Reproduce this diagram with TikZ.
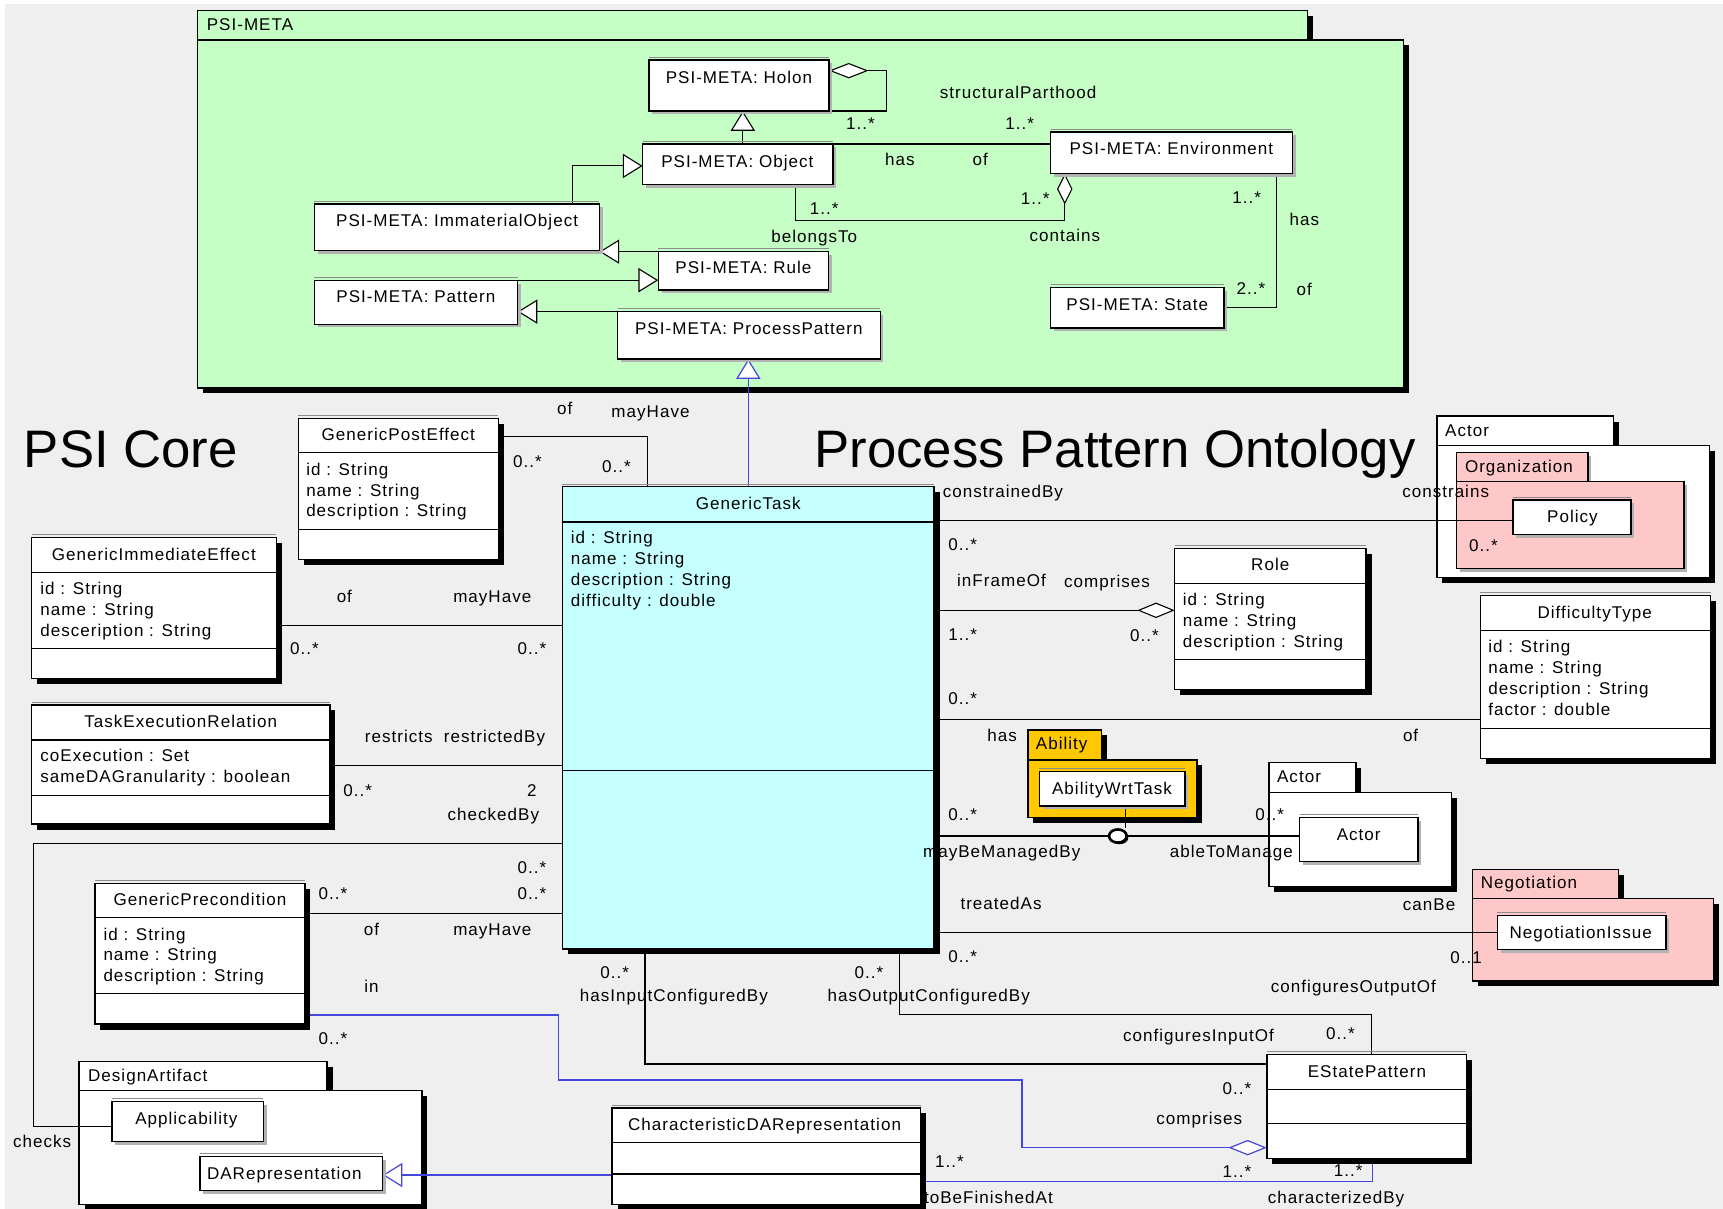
\documentclass[tikz,border=0pt]{standalone}
\usepackage{fontspec}
\setmainfont{Liberation Sans}
\newfontfamily\umlfont{Liberation Sans}[LetterSpace=6]
\usetikzlibrary{arrows.meta,fit,shadows,shapes.geometric}

\definecolor{canvasgrey}{RGB}{239,239,239}
\definecolor{metagreen}{RGB}{198,255,198}
\definecolor{taskcyan}{RGB}{198,255,255}
\definecolor{pkgpink}{RGB}{255,200,200}
\definecolor{pkgorange}{RGB}{255,200,0}
\definecolor{linkblue}{RGB}{70,70,220}

\pgfdeclarelayer{pkg}
\pgfdeclarelayer{links}
\pgfsetlayers{pkg,links,main}

\tikzset{
  lab/.style={font=\umlfont\fontsize{15.5}{19}\selectfont, inner sep=0pt, text height=11pt, text depth=3pt},
  titletext/.style={font=\fontsize{48}{52}\selectfont, inner sep=0pt, anchor=base west},
  boxline/.style={draw=black, line width=1.1pt},
  hardbox/.style={draw=black, line width=1.2pt, fill=white, inner sep=0pt, outer sep=0pt,
    drop shadow={shadow xshift=5pt, shadow yshift=-5pt, fill=black, opacity=1}},
  softbox/.style={draw=black, line width=1.2pt, fill=white, inner sep=0pt, outer sep=0pt,
    drop shadow={shadow xshift=3pt, shadow yshift=-3pt, fill=black!30, opacity=1}},
  taskbox/.style={hardbox, fill=taskcyan},
  topline/.style={draw=black!45, line width=0.8pt},
  link/.style={draw=black, line width=1pt},
  bluelink/.style={draw=linkblue, line width=1.1pt},
  gen/.style={-{Triangle[length=18pt,width=22pt,fill=white]}},
  agg/.style={arrows={{Diamond[length=#1,width=14pt,fill=white]}-}},
  ball/.style={ellipse, draw=black, line width=2.4pt, fill=white, minimum width=16pt,
    minimum height=12pt, inner sep=0pt,
    drop shadow={shadow xshift=1.5pt, shadow yshift=-1.5pt, fill=black, opacity=1}},
}

% class frame: style, name, x1, y1, x2, y2
\newcommand\umlcls[6]{%
  \node[#1, fit={(#3,#4)(#5,#6)}] (#2) {};
  \draw[topline] ([yshift=2.5pt]#2.north west) -- ([yshift=2.5pt]#2.north east);
}
% compartment separator: class name, y
\newcommand\sep[2]{\draw[boxline] (#1.west |- 0,#2) -- (#1.east |- 0,#2);}
% package: name, x1, y1, tab right, tab bottom, x2, y2, fill, frame style
\newcommand\umlpkg[9]{%
  \node[#9, fill=#8, fit={(#2,#3)(#4,#5)}] (#1-tab) {};
  \node[#9, fill=#8, fit={(#2,#5)(#6,#7)}] (#1) {};
}
% text labels: name, x, y, text
\newcommand\lbl[4]{\node[lab] (#1) at (#2,#3) {#4};}
\newcommand\lblw[4]{\node[lab, anchor=west] (#1) at (#2,#3) {#4};}

\begin{document}
\begin{tikzpicture}[x=1pt,y=-1pt]
\useasboundingbox (0,0) rectangle (1568,1100);

% ---------------- packages and canvas ----------------
\begin{pgfonlayer}{pkg}
  \fill[white] (0,0) rectangle (1568,1100);
  \fill[canvasgrey] (5,4) rectangle (1568,1100);
  \umlpkg{psimeta}{180}{9.7}{1190}{36.4}{1277}{353}{metagreen}{hardbox}
  \umlpkg{actorup}{1307.6}{378.6}{1468.5}{405.6}{1556}{525.7}{white}{hardbox}
  \umlpkg{org}{1325.3}{411.6}{1445}{438.3}{1532.4}{517.2}{pkgpink}{softbox}
  \umlpkg{ability}{935.4}{664.3}{1002.6}{691.6}{1089.3}{743.8}{pkgorange}{hardbox}
  \umlpkg{actorlow}{1154.7}{694}{1234}{721}{1321}{806.9}{white}{hardbox}
  \umlpkg{nego}{1339.8}{791}{1472.8}{817.5}{1559.6}{892.7}{pkgpink}{hardbox}
  \umlpkg{design}{72}{966}{297.7}{992.5}{384}{1096}{white}{hardbox}
\end{pgfonlayer}

% ---------------- PSI-META classes ----------------
\umlcls{softbox}{holon}{590.6}{54.6}{754.4}{101}
\umlcls{softbox}{object}{584.8}{131}{758}{168}
\umlcls{softbox}{env}{956}{120}{1176}{158}
\umlcls{softbox}{immat}{286}{185.6}{545.5}{228}
\umlcls{softbox}{rule}{599}{229}{754}{264}
\umlcls{softbox}{pattern}{286}{255}{471}{295}
\umlcls{softbox}{pp}{562}{283.6}{801}{326.7}
\umlcls{softbox}{state}{956}{261.5}{1114}{298.5}

% ---------------- core classes ----------------
\umlcls{taskbox}{gt}{511.6}{443}{850}{863.6}
\sep{gt}{475}\sep{gt}{701}
\umlcls{hardbox}{pe}{271.6}{380.7}{453.4}{509}
\sep{pe}{411.5}\sep{pe}{481.7}
\umlcls{hardbox}{gie}{28.9}{489.3}{251.4}{617.3}
\sep{gie}{521}\sep{gie}{590.3}
\umlcls{hardbox}{ter}{28.9}{641.5}{300.2}{750}
\sep{ter}{673.4}\sep{ter}{724}
\umlcls{hardbox}{gp}{86.4}{803.8}{277.5}{931.9}
\sep{gp}{835}\sep{gp}{904.3}
\umlcls{hardbox}{char}{557}{1008.3}{837.8}{1096}
\sep{char}{1039.8}\sep{char}{1068.3}
\umlcls{hardbox}{estate}{1152.9}{959.4}{1334.4}{1054}
\sep{estate}{991.3}\sep{estate}{1022.2}
\umlcls{hardbox}{role}{1069}{499}{1243.2}{627.3}
\sep{role}{530.8}\sep{role}{600}
\umlcls{hardbox}{diff}{1347}{542}{1556.7}{690}
\sep{diff}{574}\sep{diff}{662.8}

% classes shown inside packages
\umlcls{softbox}{policy}{1377}{455}{1484.4}{486.2}
\umlcls{softbox}{negiss}{1362.6}{833.3}{1516.2}{863.9}
\umlcls{softbox}{actorcls}{1182.8}{743.8}{1290.3}{784}
\umlcls{softbox}{awt}{945.8}{702.2}{1078.4}{733.5}
\umlcls{softbox}{appl}{102}{1002.5}{239.6}{1039}
\umlcls{softbox}{darep}{182}{1052.6}{348.2}{1083.5}

% association class attachment point
\node[ball] (ball) at (1017.3,760.8) {};

% ---------------- connectors ----------------
\begin{pgfonlayer}{links}
  % PSI-META
  \coordinate (holonloop) at (807,101);
  \draw[link, agg=36pt] (holon.east |- 0,64.3) -| (holonloop) -- (holon.south east);
  \draw[link, gen] (object.north -| 676,0) -- (holon.south -| 676,0);
  \draw[link] (object.north east) -- (env.west |- object.north east);
  \coordinate (contbend) at (969,201);
  \draw[link, agg=28pt] (env.south -| contbend) -- (contbend) -| (object.south -| 724,0);
  \draw[link, gen] (immat.north -| 521,0) |- (object.west |- 0,151);
  \draw[link, gen] (rule.north west) -- (immat.east |- rule.north west);
  \draw[link, gen] (pattern.north east) -- (rule.west |- pattern.north east);
  \draw[link, gen] (pp.north west) -- (pattern.east |- pp.north west);
  \draw[link] (env.south -| 1162,0) |- (state.east |- 0,280);
  \draw[bluelink, gen] (gt.north -| 681,0) -- (pp.south -| 681,0);
  % PSI Core, left side
  \draw[link] (pe.east |- 0,397.4) -| (gt.north -| 589,0);
  \draw[link] (gie.east |- 0,569) -- (gt.west |- 0,569);
  \draw[link] (ter.east |- 0,696.7) -- (gt.west |- 0,696.7);
  \coordinate (chkbend) at (30.6,767.4);
  \draw[link] (gt.west |- chkbend) -- (chkbend) |- (appl.west |- 0,1025.3);
  \draw[link] (gp.east |- 0,831.7) -- (gt.west |- 0,831.7);
  \coordinate (inbend1) at (930,982.8);
  \coordinate (inbend2) at (508.4,923.6);
  \draw[bluelink, agg=35pt] (estate.west |- 0,1044.4) -| (inbend1) -| (inbend2) -- (gp.east |- inbend2);
  \draw[bluelink, gen] (char.west |- 0,1069.3) -- (darep.east |- 0,1069.3);
  \draw[bluelink] (char.east |- 0,1075) -| (estate.south -| 1249,0);
  % PSI Core, bottom and right side
  \draw[link] (gt.south -| 587,0) |- (estate.west |- 0,968.3);
  \coordinate (outbend) at (1248,923.6);
  \draw[link] (gt.south -| 818.7,0) |- (outbend) -- (estate.north -| outbend);
  \draw[link] (gt.east |- 0,848.7) -- (negiss.west |- 0,848.7);
  \draw[link] (gt.east |- 0,760.8) -- (actorcls.west |- 0,760.8);
  \draw[link] (awt.south -| 1024.4,0) -- (ball.north -| 1024.4,0);
  \draw[link] (gt.east |- 0,654.6) -- (diff.west |- 0,654.6);
  \draw[link, agg=34pt] (role.west |- 0,555.4) -- (gt.east |- 0,555.4);
  \draw[link] (gt.east |- 0,473.8) -- (policy.west |- 0,473.8);
\end{pgfonlayer}

% ---------------- titles ----------------
\node[titletext] (coretitle) at (21.6,425) {PSI Core};
\node[titletext] (ppotitle) at (741,425) {Process Pattern Ontology};

% ---------------- package labels ----------------
\lblw{psimeta-l}{188}{23.5}{PSI-META}
\lblw{actorup-l}{1315}{393}{Actor}
\lblw{org-l}{1333}{425.6}{Organization}
\lblw{ability-l}{942.5}{678}{Ability}
\lblw{actorlow-l}{1162}{708.3}{Actor}
\lblw{nego-l}{1347.4}{805}{Negotiation}
\lblw{design-l}{80}{979.8}{DesignArtifact}

% ---------------- class names ----------------
\lbl{holon-t}{672.5}{72}{PSI-META: Holon}
\lbl{object-t}{671}{148}{PSI-META: Object}
\lbl{env-t}{1066}{137}{PSI-META: Environment}
\lbl{immat-t}{416}{202}{PSI-META: ImmaterialObject}
\lbl{rule-t}{676.5}{245}{PSI-META: Rule}
\lbl{pattern-t}{378.5}{271.5}{PSI-META: Pattern}
\lbl{pp-t}{681.5}{300}{PSI-META: ProcessPattern}
\lbl{state-t}{1035}{278.5}{PSI-META: State}
\lbl{gt-t}{681}{459.5}{GenericTask}
\lbl{pe-t}{362.5}{396.5}{GenericPostEffect}
\lbl{gie-t}{140}{505.7}{GenericImmediateEffect}
\lbl{ter-t}{164.5}{657.6}{TaskExecutionRelation}
\lbl{gp-t}{182}{819.6}{GenericPrecondition}
\lbl{char-t}{695.8}{1024.6}{CharacteristicDARepresentation}
\lbl{estate-t}{1244}{976.1}{EStatePattern}
\lbl{role-t}{1156}{515}{Role}
\lbl{diff-t}{1451.2}{558.7}{DifficultyType}
\lbl{policy-t}{1431}{471.7}{Policy}
\lbl{negiss-t}{1438.5}{850}{NegotiationIssue}
\lbl{actorcls-t}{1236.5}{760.5}{Actor}
\lbl{awt-t}{1012}{719}{AbilityWrtTask}
\lbl{appl-t}{169.6}{1019}{Applicability}
\lbl{darep-t}{258.7}{1069.3}{DARepresentation}

% ---------------- attributes ----------------
\lblw{gt-a1}{519.3}{490.8}{id : String}
\lblw{gt-a2}{519.3}{510}{name : String}
\lblw{gt-a3}{519.3}{529}{description : String}
\lblw{gt-a4}{519.3}{548}{difficulty : double}
\lblw{pe-a1}{278.5}{428.6}{id : String}
\lblw{pe-a2}{278.5}{447.4}{name : String}
\lblw{pe-a3}{278.5}{466.2}{description : String}
\lblw{gie-a1}{36.6}{537}{id : String}
\lblw{gie-a2}{36.6}{556}{name : String}
\lblw{gie-a3}{36.6}{575}{desceription : String}
\lblw{ter-a1}{36.6}{689}{coExecution : Set}
\lblw{ter-a2}{36.6}{708}{sameDAGranularity : boolean}
\lblw{gp-a1}{94}{851.5}{id : String}
\lblw{gp-a2}{94}{870.2}{name : String}
\lblw{gp-a3}{94}{889}{description : String}
\lblw{role-a1}{1076.2}{546.6}{id : String}
\lblw{role-a2}{1076.2}{565.7}{name : String}
\lblw{role-a3}{1076.2}{584.8}{description : String}
\lblw{diff-a1}{1354.2}{590}{id : String}
\lblw{diff-a2}{1354.2}{609}{name : String}
\lblw{diff-a3}{1354.2}{628}{description : String}
\lblw{diff-a4}{1354.2}{647}{factor : double}

% ---------------- association labels, PSI-META ----------------
\lbl{m1}{926.5}{85.5}{structuralParthood}
\lbl{m2}{783}{114}{1..*}
\lbl{m3}{928}{114}{1..*}
\lbl{m4}{819}{147}{has}
\lbl{m5}{892}{147}{of}
\lbl{m6}{750}{191}{1..*}
\lbl{m7}{942}{182}{1..*}
\lbl{m8}{741}{217}{belongsTo}
\lbl{m9}{969}{216}{contains}
\lbl{m10}{1134.5}{181.5}{1..*}
\lbl{m11}{1187}{201}{has}
\lbl{m12}{1138.5}{264}{2..*}
\lbl{m13}{1187}{265}{of}

% ---------------- association labels, left ----------------
\lbl{c1}{514}{373}{of}
\lbl{c2}{592}{375.5}{mayHave}
\lbl{c3}{480}{421}{0..*}
\lbl{c4}{561}{425.6}{0..*}
\lbl{c5}{313.4}{544}{of}
\lbl{c6}{448}{544}{mayHave}
\lbl{c7}{277}{591.5}{0..*}
\lbl{c8}{484}{591.5}{0..*}
\lbl{c9}{363}{671.9}{restricts}
\lbl{c10}{450}{671.9}{restrictedBy}
\lbl{c11}{325.6}{721}{0..*}
\lbl{c12}{484}{721}{2}
\lbl{c13}{449}{742.6}{checkedBy}
\lbl{c14}{484}{791}{0..*}
\lbl{c15}{303}{814.5}{0..*}
\lbl{c16}{484}{814.5}{0..*}
\lbl{c17}{338}{847}{of}
\lbl{c18}{448}{847}{mayHave}
\lbl{c19}{338}{898.8}{in}
\lbl{c20}{303}{946.4}{0..*}
\lbl{c21}{38.3}{1040.4}{checks}

% ---------------- association labels, bottom ----------------
\lbl{b1}{559.3}{886.3}{0..*}
\lbl{b2}{613.3}{907}{hasInputConfiguredBy}
\lbl{b3}{790.8}{886.3}{0..*}
\lbl{b4}{845.2}{907}{hasOutputConfiguredBy}
\lbl{b5}{1231.7}{898.8}{configuresOutputOf}
\lbl{b6}{1090.6}{943.4}{configuresInputOf}
\lbl{b7}{1219.8}{941.8}{0..*}
\lbl{b8}{1125.7}{992}{0..*}
\lbl{b9}{1091.4}{1019.2}{comprises}
\lbl{b10}{864}{1058.6}{1..*}
\lbl{b11}{899.5}{1091}{toBeFinishedAt}
\lbl{b12}{1125.7}{1067.7}{1..*}
\lbl{b13}{1227}{1066.2}{1..*}
\lbl{b14}{1215.8}{1091}{characterizedBy}

% ---------------- association labels, right ----------------
\lbl{r1}{912.7}{449}{constrainedBy}
\lbl{r2}{1315.6}{449}{constrains}
\lbl{r3}{876}{496.6}{0..*}
\lbl{r4}{1350}{497.5}{0..*}
\lbl{r5}{911.4}{530}{inFrameOf}
\lbl{r6}{1007.5}{530.2}{comprises}
\lbl{r7}{876}{578.8}{1..*}
\lbl{r8}{1041.5}{579.4}{0..*}
\lbl{r9}{876}{637}{0..*}
\lbl{r10}{912}{670.5}{has}
\lbl{r11}{1283.7}{670.4}{of}
\lbl{r12}{876}{742.6}{0..*}
\lbl{r13}{1155.5}{743}{0..*}
\lbl{r14}{911.6}{776.5}{mayBeManagedBy}
\lbl{r15}{1120.5}{776.5}{ableToManage}
\lbl{r16}{911}{824}{treatedAs}
\lbl{r17}{1300.5}{824.3}{canBe}
\lbl{r18}{876}{872}{0..*}
\lbl{r19}{1334.3}{873}{0..1}
\end{tikzpicture}
\end{document}
